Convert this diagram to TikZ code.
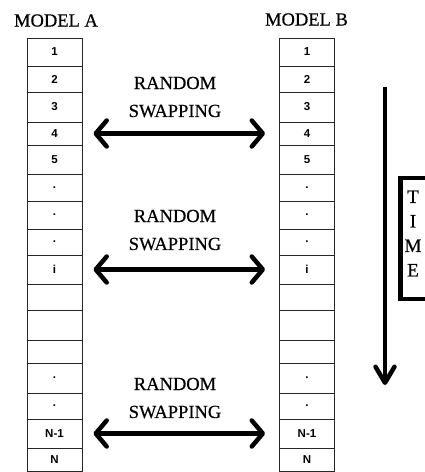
\documentclass[tikz,border=0pt]{standalone}
\usepackage{fontspec}
\setmainfont{Liberation Serif}
\newfontfamily\heavyserif[AutoFakeBold=0.5]{Liberation Serif}
\newfontfamily\cellfont{Liberation Sans}
\usetikzlibrary{arrows.meta}
\tikzset{
  cell/.style={draw=black!85, line width=0.9pt, minimum width=55pt, inner sep=0pt,
    font=\cellfont\bfseries\fontsize{11.5}{13}\selectfont},
  title/.style={inner sep=0pt, font=\heavyserif\bfseries\fontsize{18.5}{20}\selectfont},
  swaplabel/.style={inner sep=0pt, font=\heavyserif\bfseries\fontsize{18.5}{20}\selectfont},
  swaparrow/.style={line width=4.5pt,
    {Straight Barb[length=11pt,width=26pt,round]}-{Straight Barb[length=11pt,width=26pt,round]},
    shorten <=11pt, shorten >=14pt},
  timearrow/.style={line width=4.5pt, -{Straight Barb[length=16pt,width=19pt,round]}},
  timebox/.style={draw, line width=4.5pt, minimum width=32pt, minimum height=121pt, inner sep=0pt},
  timetext/.style={inner sep=0pt, align=center, font=\heavyserif\bfseries\fontsize{19}{24.5}\selectfont}
}
\begin{document}
\begin{tikzpicture}[x=1pt,y=-1pt]
\useasboundingbox (0,0) rectangle (425,472);
\node[title] (ta) at (56,20.5) {MODEL A};
\node[title] (tb) at (306.5,19.5) {MODEL B};
\foreach \t/\b/\lab/\nm in {38/66/1/r1, 66/92/2/r2, 92/122/3/r3, 122/145/4/r4,
  145/174/5/r5, 174/201/./d1, 201/229/./d2, 229/255/./d3, 255/284/i/ri,
  284/310//e1, 310/340//e2, 340/363//e3, 363/393/./d4, 393/419/./d5,
  419/448/N-1/rn1, 448/471/N/rn}{
  \pgfmathsetmacro\h{\b-\t}
  \pgfmathsetmacro\c{(\t+\b)/2}
  \node[cell, minimum height=\h pt] (A\nm) at (54.5,\c) {\lab};
  \node[cell, minimum height=\h pt] (B\nm) at (307,\c) {\lab};
}
\node[swaplabel] (ra1) at (175,83) {RANDOM};
\node[swaplabel] (sw1) at (175,111) {SWAPPING};
\draw[swaparrow] (Ar4) -- (Br4);
\node[swaplabel] (ra2) at (175,216) {RANDOM};
\node[swaplabel] (sw2) at (175,244) {SWAPPING};
\draw[swaparrow] (Ari) -- (Bri);
\node[swaplabel] (ra3) at (175,384) {RANDOM};
\node[swaplabel] (sw3) at (175,412) {SWAPPING};
\draw[swaparrow] (Arn1) -- (Brn1);
\coordinate (tstart) at (385,87);
\coordinate (tend) at (385,385);
\draw[timearrow] (tstart) -- (tend);
\node[timebox] (tbox) at (416.5,238.5) {};
\node[timetext] (ttxt) at (413,233.5) {T\\I\\M\\E};
\end{tikzpicture}
\end{document}
